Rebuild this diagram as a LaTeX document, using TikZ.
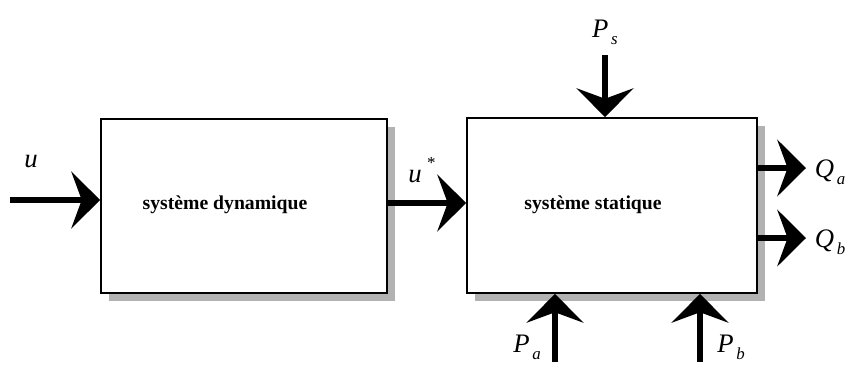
\documentclass[tikz,border=0pt]{standalone}
\usepackage{amsmath}
\usepackage{fontspec}
\setmainfont{Liberation Serif}
\usepackage{tikz}
\usetikzlibrary{arrows.meta,positioning,shadows}

% signal name with a low, small subscript
\newcommand{\sigsub}[2]{\textit{#1}\kern0.1em\raisebox{-0.55ex}{\fontsize{12}{12}\selectfont\textit{#2}}}

\begin{document}
\begin{tikzpicture}[
    x=0.025cm, y=-0.025cm,
    block/.style={
      draw=black,
      line width=1.2pt,
      fill=white,
      drop shadow={shadow xshift=0.2cm, shadow yshift=-0.2cm, fill=gray!60, opacity=1}
    },
    blocktext/.style={
      font=\bfseries\fontsize{14}{16}\selectfont
    },
    sig/.style={
      font=\fontsize{19}{22}\selectfont
    },
    flow/.style={
      line width=3.6pt,
      -{Stealth[length=0.72cm, width=1.42cm, inset=0.26cm]}
    }
  ]
    \useasboundingbox (0,0) rectangle (847,377);

    \node[block, minimum width=7.15cm, minimum height=4.35cm] (dyn) at (244,206) {};
    \node[block, minimum width=7.25cm, minimum height=4.375cm] (stat) at (612,205.5) {};
    \node[blocktext] (dyntext) at (225,205) {système dynamique};
    \node[blocktext] (stattext) at (593,205) {système statique};

    \coordinate (uin) at (10,200);
    \coordinate (psin) at (605,55);
    \coordinate (pain) at (555,362);
    \coordinate (pbin) at (700,362);
    \coordinate (qaout) at (806,168);
    \coordinate (qbout) at (806,238);

    \draw[flow] (uin) -- (uin -| dyn.west);
    \draw[flow] (dyn.east |- 0,203) -- (stat.west |- 0,203);
    \draw[flow] (psin) -- (psin |- stat.north);
    \draw[flow] (pain) -- (pain |- stat.south);
    \draw[flow] (pbin) -- (pbin |- stat.south);
    \draw[flow] (stat.east |- qaout) -- (qaout);
    \draw[flow] (stat.east |- qbout) -- (qbout);

    \node[sig] (u) at (31,162) {\textit{u}};
    \node[sig] (ustar) at (422,170) {\textit{u}\kern0.2em\raisebox{1.1ex}{\fontsize{12}{12}\selectfont *}};
    \node[sig] (ps) at (605,32) {\sigsub{P}{s}};
    \node[sig] (qa) at (830,172) {\sigsub{Q}{a}};
    \node[sig] (qb) at (830,242) {\sigsub{Q}{b}};
    \node[sig] (pa) at (527,347) {\sigsub{P}{a}};
    \node[sig] (pb) at (731,347) {\sigsub{P}{b}};
\end{tikzpicture}
\end{document}
